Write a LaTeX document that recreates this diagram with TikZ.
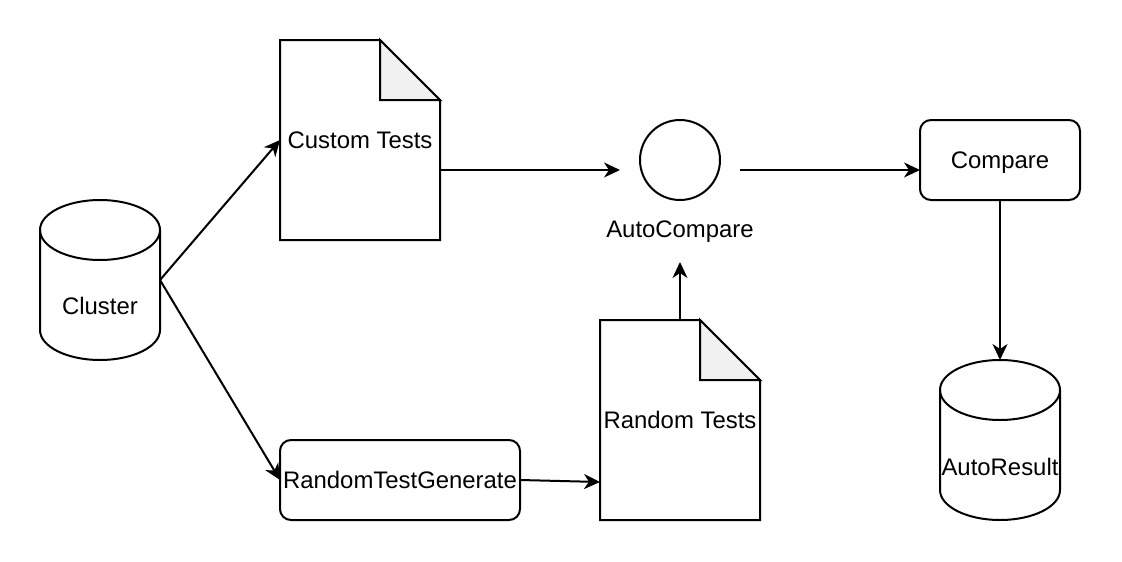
\documentclass[tikz,border=0pt]{standalone}
\usepackage{fontspec}
\setmainfont{Liberation Sans}
\usetikzlibrary{arrows.meta}
\definecolor{foldgray}{HTML}{F1F1F1}
\newcommand\drawcyl[1]{%
  \draw[outline,fill=white] ([yshift=-30pt]#1.north west) -- ([yshift=30pt]#1.south west)
    arc[start angle=180,end angle=360,x radius=60pt,y radius=30pt]
    -- ([yshift=-30pt]#1.north east)
    arc[start angle=0,end angle=180,x radius=60pt,y radius=30pt] -- cycle;
  \draw[outline] ([yshift=-30pt]#1.north west)
    arc[start angle=180,end angle=360,x radius=60pt,y radius=30pt];}
\newcommand\drawdoc[1]{%
  \draw[outline,fill=white] (#1.north west) -- ([xshift=100pt]#1.north west)
    -- ([yshift=-60pt]#1.north east) -- (#1.south east) -- (#1.south west) -- cycle;
  \draw[outline,fill=foldgray] ([xshift=100pt]#1.north west)
    -- ([xshift=100pt,yshift=-60pt]#1.north west) -- ([yshift=-60pt]#1.north east) -- cycle;}
\begin{document}
\begin{tikzpicture}[x=1pt,y=-1pt,
  outline/.style={draw=black,line width=2pt,line join=miter},
  holder/.style={draw=none,inner sep=0pt,outer sep=0pt},
  cylbox/.style={holder,minimum width=120pt,minimum height=160pt},
  docbox/.style={holder,minimum width=160pt,minimum height=200pt},
  roundbox/.style={outline,inner sep=0pt,outer sep=0pt,rounded corners=11pt,minimum height=80pt},
  txt/.style={inner sep=0pt,anchor=base,font=\fontsize{23.9}{28}\selectfont},
  arr/.style={draw=black,line width=2pt,-{Stealth[length=16pt,width=15pt,inset=5pt]}}]
\useasboundingbox (0,0) rectangle (1122,562);
\fill[white] (0,0) rectangle (1122,562);
% shapes
\node[cylbox] (cluster) at (100,280) {};
\drawcyl{cluster}
\node[docbox] (custom) at (360,140) {};
\drawdoc{custom}
\node[circle,outline,minimum size=80pt,inner sep=0pt,outer sep=0pt] (acc) at (680,160) {};
\node[holder,minimum width=120pt,minimum height=100pt] (ac) at (680,170) {};
\node[roundbox,minimum width=160pt] (compare) at (1000,160) {};
\node[cylbox] (ar) at (1000,440) {};
\drawcyl{ar}
\node[roundbox,minimum width=240pt] (rtg) at (400,480) {};
\node[docbox] (rt) at (680,420) {};
\drawdoc{rt}
\coordinate (acin) at (680,262);
% texts
\node[txt] (tcluster) at (100,314) {Cluster};
\node[txt] (tcustom) at (360,148) {Custom Tests};
\node[txt] (tac) at (680,237) {AutoCompare};
\node[txt] (tcompare) at (1000,168) {Compare};
\node[txt] (tar) at (1000,475) {AutoResult};
\node[txt] (trtg) at (400,488) {RandomTestGenerate};
\node[txt] (trt) at (680,428) {Random Tests};
% connectors
\draw[arr] (cluster.east) -- (custom.west);
\draw[arr] (cluster.east) -- (rtg.west);
\draw[arr] ([yshift=-30pt]custom.east) -- (ac.west);
\draw[arr] (ac.east) -- ([yshift=-10pt]compare.west);
\draw[arr] (compare.south) -- (ar.north);
\draw[arr] (rtg.east) -- ([yshift=-62pt]rt.west);
\draw[arr] (rt.north) -- (acin);
\end{tikzpicture}
\end{document}
